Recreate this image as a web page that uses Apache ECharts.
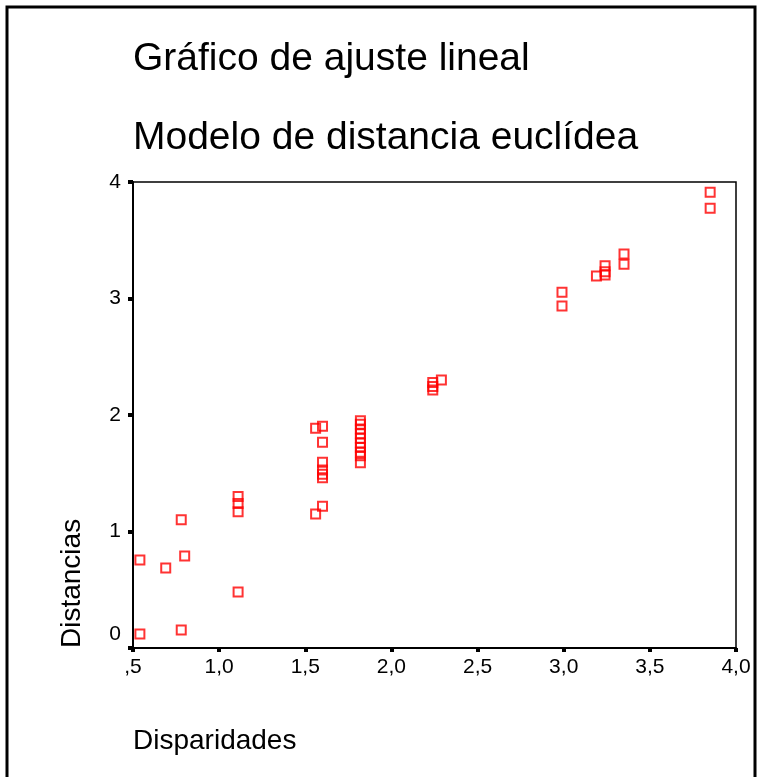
<!DOCTYPE html>
<html>
<head>
<meta charset="utf-8">
<script src="https://cdn.jsdelivr.net/npm/echarts@6/dist/echarts.min.js"></script>
<style>
html,body{margin:0;padding:0;background:#fff;}
#chart{width:760px;height:777px;}
</style>
</head>
<body>
<div id="chart"></div>
<script>
// Data
const titleLines = ['Gráfico de ajuste lineal', 'Modelo de distancia euclídea'];
const xAxisName = 'Disparidades';
const yAxisName = 'Distancias';
const xTickLabels = [',5', '1,0', '1,5', '2,0', '2,5', '3,0', '3,5', '4,0'];
const yTickLabels = ['0', '1', '2', '3', '4'];
const disparidades = [
  0.54, 0.54, 0.69, 0.78, 0.80, 0.78, 1.11, 1.11, 1.11, 1.11,
  1.56, 1.60, 1.60, 1.60, 1.60, 1.60, 1.60, 1.60, 1.56,
  1.82, 1.82, 1.82, 1.82, 1.82, 1.82, 1.82, 1.82, 1.82, 1.82,
  2.24, 2.24, 2.24, 2.29,
  2.99, 2.99, 3.19, 3.24, 3.24, 3.24, 3.35, 3.35, 3.85, 3.85
];
const distancias = [
  0.755, 0.12, 0.687, 1.10, 0.79, 0.155, 0.48, 1.30, 1.24, 1.17,
  1.886, 1.903, 1.766, 1.594, 1.528, 1.491, 1.462, 1.216, 1.150,
  1.95, 1.92, 1.88, 1.84, 1.80, 1.76, 1.72, 1.68, 1.65, 1.59,
  2.279, 2.245, 2.215, 2.30,
  3.053, 2.936, 3.193, 3.282, 3.230, 3.202, 3.382, 3.294, 3.912, 3.774
];

const points = disparidades.map((x, i) => [x, distancias[i]]);
const FONT = '"Liberation Sans", Arial, sans-serif';

const chart = echarts.init(document.getElementById('chart'), null, {renderer: 'canvas'});
chart.setOption({
  backgroundColor: '#fff',
  animation: false,
  title: [
    {text: titleLines[0], left: 133, top: 40, padding: 0,
     textStyle: {fontFamily: FONT, fontSize: 39, fontWeight: 'normal', color: '#000'}},
    {text: titleLines[1], left: 133, top: 119, padding: 0,
     textStyle: {fontFamily: FONT, fontSize: 39, fontWeight: 'normal', color: '#000'}}
  ],
  grid: {left: 133, top: 182, right: 24, bottom: 129, show: true, borderColor: '#000', borderWidth: 1.5, containLabel: false},
  xAxis: {
    type: 'value', min: 0.5, max: 4.0, interval: 0.5,
    axisLine: {show: true, onZero: false, lineStyle: {color: '#000', width: 2}},
    axisTick: {show: true, length: 4, lineStyle: {color: '#000', width: 4}},
    splitLine: {show: false},
    axisLabel: {
      margin: 9, fontFamily: FONT, fontSize: 21, color: '#000',
      formatter: (v) => xTickLabels[Math.round((v - 0.5) / 0.5)]
    }
  },
  yAxis: {
    type: 'value', min: 0, max: 4, interval: 1,
    axisLine: {show: true, onZero: false, lineStyle: {color: '#000', width: 2}},
    axisTick: {show: true, length: 5, lineStyle: {color: '#000', width: 4}},
    splitLine: {show: false},
    axisLabel: {
      margin: 12, fontFamily: FONT, fontSize: 21, color: '#000',
      formatter: (v) => {
        const s = yTickLabels[Math.round(v)];
        return v === 0 ? '{z|' + s + '}' : s;
      },
      rich: {z: {fontFamily: FONT, fontSize: 21, color: '#000', padding: [0, 0, 28, 0]}}
    }
  },
  graphic: [
    {type: 'rect', silent: true, shape: {x: 7, y: 7, width: 748, height: 820},
     style: {fill: 'none', stroke: '#000', lineWidth: 3}},
    {type: 'text', x: 133, y: 741, silent: true,
     style: {text: xAxisName, fontFamily: FONT, fontSize: 28, fill: '#000', textAlign: 'left', textVerticalAlign: 'middle'}},
    {type: 'text', x: 72, y: 648, rotation: Math.PI / 2, silent: true,
     style: {text: yAxisName, fontFamily: FONT, fontSize: 28, fill: '#000', textAlign: 'left', textVerticalAlign: 'middle'}}
  ],
  series: [{
    type: 'scatter',
    data: points,
    symbol: 'rect',
    symbolSize: 9,
    itemStyle: {color: 'rgba(0,0,0,0)', borderColor: '#ff0000', borderWidth: 2}
  }]
});
</script>
</body>
</html>
